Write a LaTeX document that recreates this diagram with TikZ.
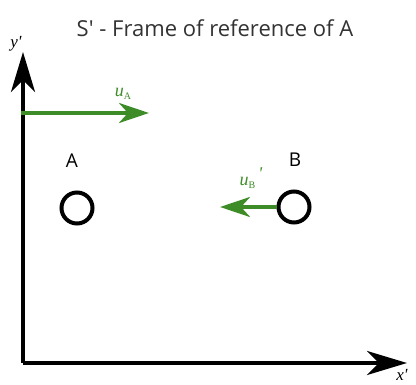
\documentclass[tikz,border=0pt]{standalone}
\usepackage{fontspec}
\setmainfont{Open Sans}
\newfontfamily\serifit{Liberation Serif}
\usetikzlibrary{arrows.meta}
\definecolor{vgreen}{RGB}{62,140,40}
\begin{document}
\begin{tikzpicture}[x=1pt,y=-1pt,
  axis/.style={line width=4pt,-{Stealth[length=40pt,width=24pt,inset=12pt]}},
  vel/.style={vgreen,line width=4pt,-{Stealth[length=30pt,width=20pt,inset=9pt]}},
  particle/.style={circle,draw,line width=4pt,minimum size=31pt,inner sep=0pt},
  lbl/.style={font=\fontsize{19}{22}\selectfont},
  ax/.style={font=\serifit\itshape\fontsize{17}{19}\selectfont},
  vlab/.style={text=vgreen,font=\serifit\fontsize{18}{20}\selectfont}]
\useasboundingbox (0,0) rectangle (416,385);
\node[font=\fontsize{22}{26}\selectfont,text=black!80] (title) at (215,28) {S\textquotesingle{} - Frame of reference of A};
\coordinate (o) at (23,363);
\coordinate (ytip) at (23,52);
\coordinate (xtip) at (407,363);
\draw[axis] (o) -- (ytip);
\draw[axis] (o) -- (xtip);
\node[ax] (ylab) at (16,44) {y\textquotesingle};
\node[ax] (xlab) at (402,375) {x\textquotesingle};
\coordinate (ua0) at (21,113);
\coordinate (ua1) at (149,113);
\draw[vel] (ua0) -- (ua1);
\node[vlab] (ualab) at (123,94) {\itshape u\raisebox{-3pt}{\fontsize{10}{11}\selectfont\upshape A}};
\node[lbl] (alab) at (72,161) {A};
\node[particle] (a) at (77,208) {};
\node[lbl] (blab) at (295,160) {B};
\node[particle] (b) at (294,207) {};
\coordinate (ub1) at (220,207);
\draw[vel] (b.west) -- (ub1);
\node[vlab] (ublab) at (251,178) {\itshape u\raisebox{-3pt}{\fontsize{10}{11}\selectfont\upshape B}\,\raisebox{6pt}{\textquotesingle}};
\end{tikzpicture}
\end{document}
